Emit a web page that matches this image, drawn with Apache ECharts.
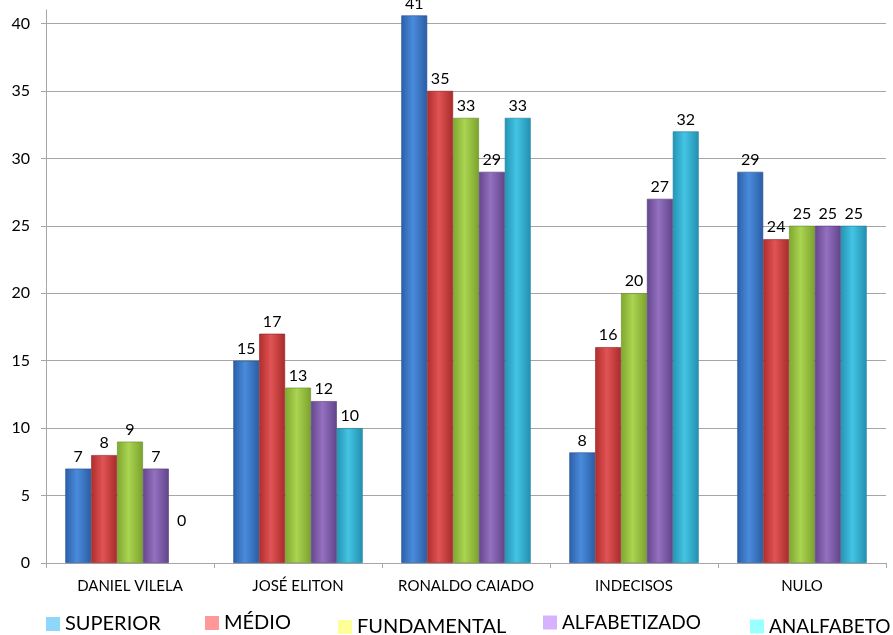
<!DOCTYPE html>
<html>
<head>
<meta charset="utf-8">
<script src="https://cdn.jsdelivr.net/npm/echarts@6/dist/echarts.min.js"></script>
<style>html,body{margin:0;padding:0;background:#fff}#c{width:893px;height:635px}</style>
</head>
<body>
<div id="c"></div>
<script>
var categories = ['DANIEL VILELA', 'JOSÉ ELITON', 'RONALDO CAIADO', 'INDECISOS', 'NULO'];
var seriesNames = ['SUPERIOR', 'MÉDIO', 'FUNDAMENTAL', 'ALFABETIZADO', 'ANALFABETO'];
var superior = [7, 15, 40.6, 8.2, 29];
var medio = [8, 17, 35, 16, 24];
var fundamental = [9, 13, 33, 20, 25];
var alfabetizado = [7, 12, 29, 27, 25];
var analfabeto = [0, 10, 33, 32, 25];
var yTicks = [0, 5, 10, 15, 20, 25, 30, 35, 40];

var values = [superior, medio, fundamental, alfabetizado, analfabeto];
var barColors = [
  ['#2C5FA8', '#4A8CDC', '#2A5CA4'],
  ['#B02C2C', '#E05454', '#AA2A2A'],
  ['#7FA82E', '#AAD452', '#7AA22C'],
  ['#64468E', '#9470C0', '#60448A'],
  ['#2494B4', '#44C4E4', '#2290B0']
];
var borderColors = ['#24508E', '#8E2424', '#68882A', '#523A74', '#1E7C98'];
var legendColors = ['#8ED6FA', '#FF9999', '#FFFF99', '#D7B3FF', '#99FFFF'];
var legendPos = [[46, 614], [205, 613], [338, 617], [543, 613], [750, 617]];
var legendFont = [20, 20, 20, 19, 19];

var font = 'Lato, "Liberation Sans", sans-serif';

var series = seriesNames.map(function (n, i) {
  var c = barColors[i];
  return {
    name: n,
    type: 'bar',
    data: values[i].map(function (v) {
      if (v === 0) {
        return {value: v, itemStyle: {borderWidth: 0}, label: {offset: [0, -30]}};
      }
      return v;
    }),
    barGap: '0%',
    barCategoryGap: '23%',
    itemStyle: {
      color: {
        type: 'linear', x: 0, y: 0, x2: 1, y2: 0,
        colorStops: [
          {offset: 0, color: c[0]},
          {offset: 0.45, color: c[1]},
          {offset: 1, color: c[2]}
        ]
      },
      borderColor: borderColors[i],
      borderWidth: 0.6
    },
    label: {
      show: true,
      position: 'top',
      distance: 4,
      color: '#000',
      fontSize: 16,
      fontFamily: font,
      formatter: function (p) { return Math.round(p.value); }
    }
  };
});

var legends = seriesNames.map(function (n, i) {
  return {
    left: legendPos[i][0],
    top: legendPos[i][1],
    padding: 0,
    itemWidth: 14,
    itemHeight: 14,
    itemGap: 0,
    icon: 'rect',
    textStyle: {fontSize: legendFont[i], color: '#000', fontFamily: font},
    data: [{name: n, itemStyle: {color: legendColors[i], borderWidth: 0}}],
    selectedMode: false
  };
});

var chart = echarts.init(document.getElementById('c'), null, {renderer: 'canvas'});
chart.setOption({
  animation: false,
  backgroundColor: '#fff',
  grid: {left: 46, right: 7, top: 10, bottom: 72, containLabel: false},
  legend: legends,
  xAxis: {
    type: 'category',
    data: categories,
    axisLine: {lineStyle: {color: '#A6A6A6', width: 1}},
    axisTick: {show: true, length: 5, lineStyle: {color: '#A6A6A6'}},
    axisLabel: {color: '#000', fontSize: 15, fontFamily: font, margin: 16, interval: 0}
  },
  yAxis: {
    type: 'value',
    min: 0,
    max: 41,
    interval: 5,
    axisLine: {show: true, lineStyle: {color: '#A6A6A6', width: 1}},
    axisTick: {show: true, length: 5, lineStyle: {color: '#A6A6A6'}, customValues: yTicks},
    axisLabel: {color: '#000', fontSize: 16, fontFamily: font, margin: 16, customValues: yTicks},
    splitLine: {show: true, lineStyle: {color: '#A6A6A6', width: 1}}
  },
  series: series
});
</script>
</body>
</html>
